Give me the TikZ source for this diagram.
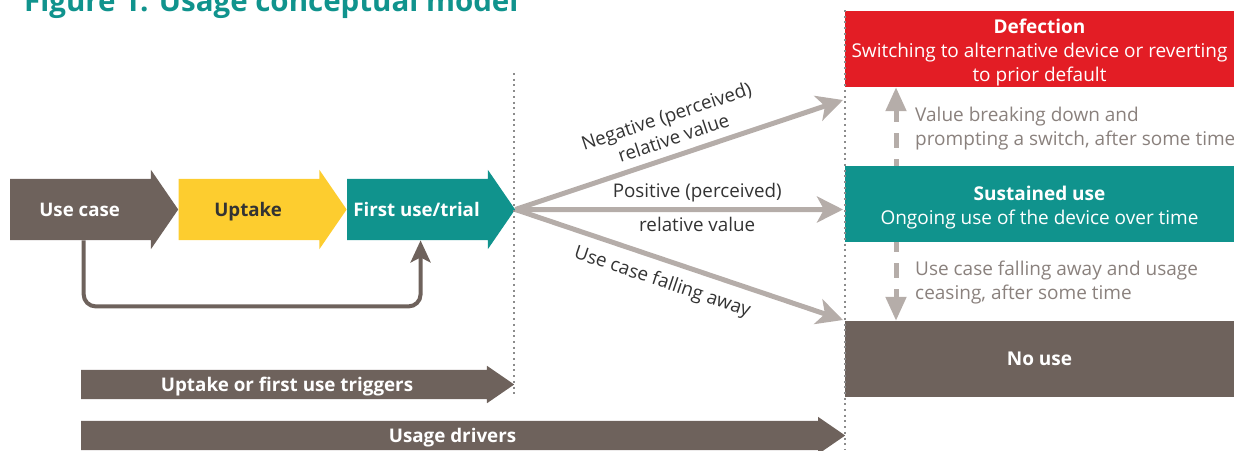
\documentclass[tikz,border=0pt]{standalone}
\usepackage{fontspec}
\setmainfont{Open Sans}
\usetikzlibrary{positioning, arrows.meta, shapes.arrows}

\definecolor{umbrown}{HTML}{6E625C}
\definecolor{umyellow}{HTML}{FDCD2F}
\definecolor{umteal}{HTML}{10938D}
\definecolor{umred}{HTML}{E31D25}
\definecolor{umarrow}{HTML}{B5ADA9}
\definecolor{umgreytext}{HTML}{8A817D}
\definecolor{umdark}{HTML}{333333}
\definecolor{umdots}{HTML}{8C8C8C}

\newcommand{\headstrut}{\rule{0pt}{21pt}}

\tikzstyle{chevron} = [single arrow, single arrow head extend=9pt, single arrow tip angle=111, minimum height=168pt, inner xsep=0pt, inner ysep=22pt, text height=15pt, text depth=2pt, execute at begin node=\kern-8pt, font=\fontsize{18.7}{22}\selectfont\bfseries]
\tikzstyle{driver} = [single arrow, single arrow head extend=4pt, single arrow tip angle=69, inner xsep=0pt, inner ysep=6pt, text height=15pt, text depth=2pt, fill=umbrown, text=white, font=\fontsize{18.8}{22}\selectfont\bfseries]
\tikzstyle{outcome} = [rectangle, minimum width=389pt, minimum height=76pt, inner sep=0pt, align=center, text=white, font=\fontsize{19}{24}\selectfont]
\tikzstyle{note} = [anchor=west, align=left, inner sep=0pt, text=umgreytext, font=\fontsize{19}{24}\selectfont]
\tikzstyle{fanlabel} = [align=center, text=umdark, font=\fontsize{18.8}{23}\selectfont]
\tikzstyle{fanarrow} = [line width=5pt, umarrow, -{Stealth[length=26pt,width=26pt,inset=7pt]}]
\tikzstyle{switcharrow} = [line width=5pt, umarrow, dash pattern=on 15pt off 11pt, -{Triangle[length=24pt,width=20pt]}]
\tikzstyle{backarrow} = [line width=4pt, umbrown, rounded corners=12pt, -{Stealth[length=22pt,width=20pt,inset=5pt]}]
\tikzstyle{divider} = [line width=2pt, umdots, dash pattern=on 2pt off 3.7pt]

\begin{document}
\begin{tikzpicture}[x=1pt, y=-1pt]
    \clip (0,0) rectangle (1234,450);

    % Title (cut at the top)
    \node (title) [anchor=base west, inner sep=0pt, text=umteal, font=\fontsize{29.5}{31}\selectfont\bfseries] at (24,11) {Figure 1: Usage conceptual model};

    % Nodes
    \node (usecase) [chevron, fill=umbrown, text=white, anchor=tail] at (10,209.5) {Use case};
    \node (uptake) [chevron, fill=umyellow, text=umdark, right=0pt of usecase] {Uptake};
    \node (trial) [chevron, fill=umteal, text=white, right=0pt of uptake] {First use/trial};

    \node (defection) [outcome, fill=umred] at (1039.5,49) {\headstrut\textbf{Defection}\\Switching to alternative device or reverting\\to prior default};
    \node (sustained) [outcome, fill=umteal] at (1039.5,204) {\headstrut\textbf{Sustained use}\\Ongoing use of the device over time};
    \node (nouse) [outcome, fill=umbrown] at (1039.5,359) {\textbf{No use}};

    \node (valuenote) [note] at (915,129) {Value breaking down and\\prompting a switch, after some time};
    \node (fallnote) [note] at (915,283) {Use case falling away and usage\\ceasing, after some time};

    \node (triggers) [driver, minimum height=433pt, anchor=tail] at (81,384.5) {Uptake or first use triggers};
    \node (drivers) [driver, minimum height=764pt, anchor=tail] at (81,435.5) {Usage drivers};

    \coordinate (negend) at (843,100);
    \coordinate (posend) at (843,209.5);
    \coordinate (fallend) at (843,320);
    \coordinate (switchx) at (896,0);

    % Dividers
    \draw [divider] (514,73) -- (514,396);
    \draw [divider] (845,10) -- (845,450);

    % Arrows
    \draw [backarrow] (usecase.south) -- ++(0,66) -| (trial.south);
    \draw [fanarrow] (trial.tip) -- (negend) node[fanlabel, pos=0.5, above=5pt, sloped] {Negative (perceived)\\relative value};
    \draw [fanarrow] (trial.tip) -- (posend) node[fanlabel, pos=0.555, above=2pt] {Positive (perceived)} node[fanlabel, pos=0.555, below=2pt] {relative value};
    \draw [fanarrow] (trial.tip) -- (fallend) node[fanlabel, pos=0.47, below=7pt, sloped] {Use case falling away};
    \draw [switcharrow, dash phase=8pt] (sustained.north -| switchx) -- (defection.south -| switchx);
    \draw [switcharrow, dash phase=5pt] (sustained.south -| switchx) -- (nouse.north -| switchx);

\end{tikzpicture}
\end{document}
